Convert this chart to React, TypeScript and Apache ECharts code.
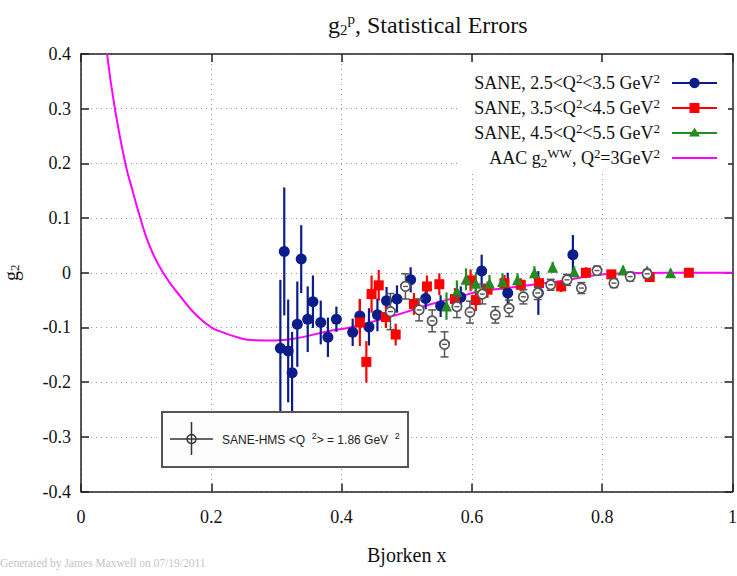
import React, { useEffect, useRef } from "react";
import * as echarts from "echarts";

// ---- data ----
const blueX = [0.306, 0.312, 0.318, 0.324, 0.332, 0.338, 0.348, 0.356, 0.368, 0.379, 0.392, 0.417, 0.428, 0.442, 0.455, 0.469, 0.485, 0.506, 0.529, 0.552, 0.583, 0.615, 0.655, 0.702, 0.755];
const blueY = [-0.138, 0.039, -0.143, -0.183, -0.094, 0.025, -0.085, -0.053, -0.091, -0.118, -0.085, -0.109, -0.079, -0.099, -0.077, -0.051, -0.048, -0.013, -0.047, -0.061, -0.045, 0.003, -0.037, -0.037, 0.033];
const blueE = [0.125, 0.117, 0.094, 0.075, 0.078, 0.062, 0.06, 0.048, 0.04, 0.036, 0.023, 0.025, 0.03, 0.034, 0.03, 0.025, 0.025, 0.023, 0.02, 0.02, 0.02, 0.03, 0.037, 0.04, 0.036];

const redX = [0.428, 0.438, 0.446, 0.457, 0.468, 0.483, 0.511, 0.531, 0.55, 0.574, 0.598, 0.606, 0.624, 0.65, 0.675, 0.703, 0.737, 0.775, 0.814, 0.873, 0.933];
const redY = [-0.091, -0.163, -0.039, -0.023, -0.081, -0.113, -0.057, -0.025, -0.021, -0.048, -0.014, -0.05, -0.031, -0.019, -0.022, -0.019, -0.025, 0.0, -0.003, -0.008, 0.0];
const redE = [0.043, 0.038, 0.034, 0.028, 0.02, 0.02, 0.02, 0.02, 0.02, 0.02, 0.02, 0.02, 0.015, 0.015, 0.012, 0.012, 0.01, 0.01, 0.008, 0.008, 0.006];

const greenX = [0.561, 0.577, 0.591, 0.606, 0.627, 0.647, 0.67, 0.696, 0.724, 0.757, 0.832, 0.869, 0.905];
const greenY = [-0.061, -0.034, -0.012, -0.019, -0.019, -0.016, -0.013, 0.0, 0.01, 0.002, 0.005, 0.003, 0.0];
const greenE = [0.025, 0.02, 0.02, 0.02, 0.015, 0.015, 0.012, 0.012, 0.01, 0.01, 0.008, 0.008, 0.006];

const hmsX = [0.475, 0.498, 0.519, 0.539, 0.558, 0.577, 0.597, 0.616, 0.636, 0.657, 0.679, 0.701, 0.721, 0.746, 0.768, 0.792, 0.818, 0.843, 0.869];
const hmsY = [-0.071, -0.025, -0.068, -0.088, -0.131, -0.062, -0.072, -0.039, -0.077, -0.065, -0.044, -0.037, -0.022, -0.013, -0.028, 0.004, -0.019, -0.007, -0.002];
const hmsE = [0.033, 0.023, 0.02, 0.02, 0.023, 0.02, 0.02, 0.018, 0.015, 0.015, 0.013, 0.012, 0.01, 0.01, 0.01, 0.008, 0.008, 0.008, 0.008];

const wwX = [0.04, 0.052, 0.068, 0.079, 0.091, 0.105, 0.126, 0.157, 0.175, 0.2, 0.218, 0.24, 0.26, 0.298, 0.33, 0.383, 0.413, 0.485, 0.53, 0.583, 0.613, 0.66, 0.737, 0.813, 0.9, 1.0];
const wwY = [0.4, 0.3, 0.2, 0.151, 0.1, 0.05, 0.0, -0.05, -0.075, -0.1, -0.109, -0.118, -0.123, -0.124, -0.12, -0.106, -0.1, -0.077, -0.06, -0.043, -0.034, -0.027, -0.015, -0.002, 0.0, 0.0];

const xTicks = { min: 0, max: 1, interval: 0.2 };
const yTicks = { min: -0.4, max: 0.4, interval: 0.1 };

const legendLabels = [
  "{t|SANE, 2.5<Q}{sup|2}{t|<3.5 GeV}{sup|2}",
  "{t|SANE, 3.5<Q}{sup|2}{t|<4.5 GeV}{sup|2}",
  "{t|SANE, 4.5<Q}{sup|2}{t|<5.5 GeV}{sup|2}",
  "{t|AAC g}{sub|2}{sup|WW}{t|, Q}{sup|2}{t|=3GeV}{sup|2}",
];

// ---- styling ----
const SERIF = '"Liberation Serif", "Times New Roman", serif';
const SANS = '"Liberation Sans", Arial, sans-serif';
const BLUE = "#0b1d8b";
const RED = "#ff0000";
const GREEN = "#228b22";
const MAGENTA = "#ff00ff";
const GRAY = "#555555";

const zip3 = (a: number[], b: number[], c: number[]) => a.map((v, i) => [v, b[i], c[i]]);

function errBars(color: string) {
  return (params: any, api: any) => {
    const x = api.value(0), y = api.value(1), e = api.value(2);
    const t = api.coord([x, y + e]);
    const b = api.coord([x, y - e]);
    return {
      type: "line",
      shape: { x1: t[0], y1: t[1], x2: b[0], y2: b[1] },
      style: { stroke: color, lineWidth: 2.2 },
    };
  };
}

function hmsRender(params: any, api: any) {
  const x = api.value(0), y = api.value(1), e = api.value(2);
  const t = api.coord([x, y + e]);
  const b = api.coord([x, y - e]);
  const c = api.coord([x, y]);
  const cw = 4;
  return {
    type: "group",
    children: [
      { type: "line", shape: { x1: t[0], y1: t[1], x2: b[0], y2: b[1] }, style: { stroke: GRAY, lineWidth: 1.5 } },
      { type: "line", shape: { x1: t[0] - cw, y1: t[1], x2: t[0] + cw, y2: t[1] }, style: { stroke: GRAY, lineWidth: 1.5 } },
      { type: "line", shape: { x1: b[0] - cw, y1: b[1], x2: b[0] + cw, y2: b[1] }, style: { stroke: GRAY, lineWidth: 1.5 } },
      { type: "circle", shape: { cx: c[0], cy: c[1], r: 4.7 }, style: { fill: "#fff", stroke: GRAY, lineWidth: 1.7 } },
      { type: "line", shape: { x1: c[0] - 2.5, y1: c[1], x2: c[0] + 2.5, y2: c[1] }, style: { stroke: GRAY, lineWidth: 1.4 } },
    ],
  };
}

export default function App() {
  const ref = useRef<HTMLDivElement>(null);
  useEffect(() => {
    if (!ref.current) return;
    const chart = echarts.init(ref.current, undefined, { renderer: "svg" });
    const axisLine = { show: true, onZero: false, lineStyle: { color: "#222", width: 1.5 } };
    const axisTick = { show: true, inside: true, length: 8, lineStyle: { color: "#222", width: 1.5 } };
    const splitLine = { show: true, lineStyle: { color: "#999", type: [1, 4], width: 1 } };
    const legendX = 660;
    const legendY0 = 83;
    const legendDy = 25;
    const supRich = {
      t: { fontSize: 18, fontFamily: SERIF, fill: "#111", color: "#111" },
      sup: { fontSize: 13, fontFamily: SERIF, color: "#111", fill: "#111", padding: [0, 0, 10, 0] },
      sub: { fontSize: 13, fontFamily: SERIF, color: "#111", fill: "#111", padding: [8, 0, 0, 0] },
    };
    const legendGraphics: any[] = [
      { type: "rect", z: 100, shape: { x: 460, y: 62, width: 268, height: 110 }, style: { fill: "#fff" } },
    ];
    const legendColors = [BLUE, RED, GREEN, MAGENTA];
    legendLabels.forEach((lab, i) => {
      const y = legendY0 + legendDy * i;
      legendGraphics.push({
        type: "text", z: 101, x: legendX, y,
        style: { text: lab, rich: supRich, align: "right", verticalAlign: "middle", font: `18px ${SERIF}`, fill: "#111" },
      });
      legendGraphics.push({
        type: "line", z: 101, shape: { x1: 672, y1: y, x2: 717, y2: y },
        style: { stroke: legendColors[i], lineWidth: 2 },
      });
      if (i === 0) legendGraphics.push({ type: "circle", z: 102, shape: { cx: 694.5, cy: y, r: 5.2 }, style: { fill: BLUE } });
      if (i === 1) legendGraphics.push({ type: "rect", z: 102, shape: { x: 689.5, y: y - 5, width: 10, height: 10 }, style: { fill: RED } });
      if (i === 2) legendGraphics.push({ type: "polygon", z: 102, shape: { points: [[694.5, y - 5.5], [700, y + 3.5], [689, y + 3.5]] }, style: { fill: GREEN } });
    });

    const option: any = {
      animation: false,
      backgroundColor: "#fff",
      title: {
        text: "{g|g}{sub|2}{sup|p}{t|, Statistical Errors}",
        left: 323,
        top: 6,
        textStyle: {
          fontWeight: "normal",
          rich: {
            g: { fontSize: 24, fontFamily: SERIF, color: "#111", fontWeight: "normal" },
            t: { fontSize: 24, fontFamily: SERIF, color: "#111", fontWeight: "normal" },
            sub: { fontSize: 15, fontFamily: SERIF, color: "#111", fontWeight: "normal", padding: [10, 0, 0, 0] },
            sup: { fontSize: 15, fontFamily: SERIF, color: "#111", fontWeight: "normal", padding: [0, 0, 12, 0] },
          },
        },
      },
      grid: { left: 81, right: 4.5, top: 54, bottom: 84.5, containLabel: false, outerBoundsMode: "none" },
      xAxis: [
        {
          type: "value", ...xTicks, position: "bottom",
          axisLine, axisTick, splitLine,
          axisLabel: { margin: 16, fontSize: 18, fontFamily: SERIF, color: "#111" },
          name: "Bjorken x", nameLocation: "middle", nameGap: 53,
          nameTextStyle: { fontSize: 20, fontFamily: SERIF, color: "#111" },
        },
        {
          type: "value", ...xTicks, position: "top",
          axisLine, axisTick, splitLine: { show: false }, axisLabel: { show: false },
        },
      ],
      yAxis: [
        {
          type: "value", ...yTicks, position: "left",
          axisLine, axisTick, splitLine,
          axisLabel: { margin: 10, fontSize: 18, fontFamily: SERIF, color: "#111" },
          name: "{g|g}{s|2}", nameLocation: "middle", nameRotate: 90, nameGap: 60,
          nameTextStyle: {
            rich: {
              g: { fontSize: 20, fontFamily: SERIF, color: "#111" },
              s: { fontSize: 13, fontFamily: SERIF, color: "#111", padding: [8, 0, 0, 0] },
            },
          },
        },
        {
          type: "value", ...yTicks, position: "right",
          axisLine, axisTick, splitLine: { show: false }, axisLabel: { show: false },
        },
      ],
      series: [
        {
          name: "AAC g2WW, Q2=3GeV2", type: "line", smooth: 0.5, showSymbol: false,
          data: wwX.map((x, i) => [x, wwY[i]]),
          lineStyle: { color: MAGENTA, width: 2 }, itemStyle: { color: MAGENTA },
          clip: true, z: 2,
        },
        { name: "blueErr", type: "custom", renderItem: errBars(BLUE), data: zip3(blueX, blueY, blueE), encode: { x: 0, y: 1 }, z: 3 },
        { name: "SANE, 2.5<Q2<3.5 GeV2", type: "scatter", symbol: "circle", symbolSize: 11, data: blueX.map((x, i) => [x, blueY[i]]), itemStyle: { color: BLUE, opacity: 1 }, z: 3 },
        { name: "redErr", type: "custom", renderItem: errBars(RED), data: zip3(redX, redY, redE), encode: { x: 0, y: 1 }, z: 3 },
        { name: "SANE, 3.5<Q2<4.5 GeV2", type: "scatter", symbol: "rect", symbolSize: 10, data: redX.map((x, i) => [x, redY[i]]), itemStyle: { color: RED, opacity: 1 }, z: 3 },
        { name: "greenErr", type: "custom", renderItem: errBars(GREEN), data: zip3(greenX, greenY, greenE), encode: { x: 0, y: 1 }, z: 3 },
        { name: "SANE, 4.5<Q2<5.5 GeV2", type: "scatter", symbol: "triangle", symbolSize: 11, data: greenX.map((x, i) => [x, greenY[i]]), itemStyle: { color: GREEN, opacity: 1 }, z: 3 },
        { name: "SANE-HMS", type: "custom", renderItem: hmsRender, data: zip3(hmsX, hmsY, hmsE), encode: { x: 0, y: 1 }, z: 4 },
      ],
      graphic: [
        ...legendGraphics,
        { type: "rect", z: 100, shape: { x: 162, y: 412, width: 246, height: 55 }, style: { fill: "#fdfdfd", stroke: "#555", lineWidth: 2 } },
        { type: "line", z: 101, shape: { x1: 170, y1: 439, x2: 213, y2: 439 }, style: { stroke: "#333", lineWidth: 1.5 } },
        { type: "line", z: 101, shape: { x1: 191.5, y1: 422, x2: 191.5, y2: 455 }, style: { stroke: "#333", lineWidth: 1.5 } },
        { type: "circle", z: 102, shape: { cx: 191.5, cy: 439, r: 4.5 }, style: { fill: "none", stroke: "#333", lineWidth: 1.5 } },
        {
          type: "text", z: 102, x: 222, y: 440,
          style: {
            text: "{t|SANE-HMS <Q  }{s|2}{t|> = 1.86 GeV  }{s|2}",
            verticalAlign: "middle", align: "left", font: `12px ${SANS}`, fill: "#222",
            rich: {
              t: { fontSize: 12, fontFamily: SANS, fill: "#222", color: "#222" },
              s: { fontSize: 9, fontFamily: SANS, fill: "#222", color: "#222", padding: [0, 0, 8, 0] },
            },
          },
        },
        {
          type: "text", z: 100, x: 0, y: 563,
          style: { text: "Generated by James Maxwell on 07/19/2011", font: `11.5px ${SERIF}`, fill: "#c4c4c4", verticalAlign: "middle" },
        },
      ],
    };
    chart.setOption(option);
    return () => chart.dispose();
  }, []);
  return <div ref={ref} style={{ position: "fixed", left: 0, top: 0, width: 737, height: 576 }} />;
}
